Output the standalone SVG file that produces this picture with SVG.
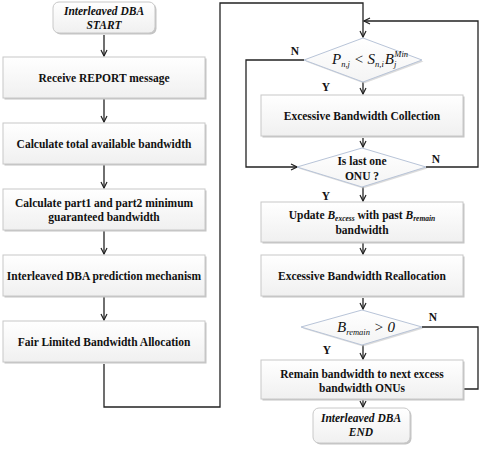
<svg xmlns="http://www.w3.org/2000/svg" width="482" height="452" viewBox="0 0 482 452">
<style>
.box{fill:url(#g);stroke:#c8c8c8;stroke-width:1}
.sh{fill:#c4c4c4}
.dm{fill:url(#g2);stroke:#b8c4d8;stroke-width:1}
.t{font-family:"Liberation Serif","Times New Roman",serif;font-weight:bold;font-size:11.5px;fill:#111;text-anchor:middle}
.ti{font-style:italic}
.m{font-family:"Liberation Serif","Times New Roman",serif;font-style:italic;fill:#111}
.lb{font-family:"Liberation Serif","Times New Roman",serif;font-weight:bold;font-size:11.5px;fill:#111;text-anchor:middle}
.c{fill:none;stroke:#222;stroke-width:1.3}
</style>
<defs>
<linearGradient id="g" x1="0" y1="0" x2="0" y2="1"><stop offset="0" stop-color="#ffffff"/><stop offset="1" stop-color="#f0f0f0"/></linearGradient>
<linearGradient id="g2" x1="0" y1="0" x2="0" y2="1"><stop offset="0" stop-color="#ffffff"/><stop offset="1" stop-color="#f4f4f4"/></linearGradient>
<marker id="a" markerWidth="8" markerHeight="8" refX="7" refY="4" orient="auto" markerUnits="userSpaceOnUse"><path d="M1,1 L7,4 L1,7" fill="none" stroke="#222" stroke-width="1.2"/></marker>
</defs>

<g id="connectors">
<path class="c" d="M104,35 V56" marker-end="url(#a)"/>
<path class="c" d="M104,99 V122" marker-end="url(#a)"/>
<path class="c" d="M104,165 V188" marker-end="url(#a)"/>
<path class="c" d="M104,231 V254" marker-end="url(#a)"/>
<path class="c" d="M104,297 V320" marker-end="url(#a)"/>
<path class="c" d="M104,364 V407 H220 V3 H363 V37" marker-end="url(#a)"/>
<path class="c" d="M304,60 H246 V167 H297" marker-end="url(#a)"/>
<path class="c" d="M363,82 V94" marker-end="url(#a)"/>
<path class="c" d="M363,138 V147" marker-end="url(#a)"/>
<path class="c" d="M426,167 H478 V21 H364" marker-end="url(#a)"/>
<path class="c" d="M363,187 V201" marker-end="url(#a)"/>
<path class="c" d="M363,243 V254" marker-end="url(#a)"/>
<path class="c" d="M363,298 V309" marker-end="url(#a)"/>
<path class="c" d="M422,327 H478 V389 H411" marker-end="url(#a)"/>
<path class="c" d="M363,345 V359" marker-end="url(#a)"/>
<path class="c" d="M363,400 V407" marker-end="url(#a)"/>
<text class="lb" x="295" y="55">N</text>
<text class="lb" x="326" y="91">Y</text>
<text class="lb" x="436" y="163">N</text>
<text class="lb" x="326" y="200">Y</text>
<text class="lb" x="433" y="321">N</text>
<text class="lb" x="327" y="354">Y</text>
</g>

<g id="start">
<rect class="sh" x="54.5" y="3.5" width="102" height="31" rx="6"/>
<rect class="box" x="53" y="2" width="102" height="31" rx="6"/>
<text class="t ti" x="104" y="15">Interleaved DBA</text>
<text class="t ti" x="104" y="29">START</text>
</g>

<g id="receive">
<rect class="sh" x="4.5" y="58.5" width="202" height="41"/>
<rect class="box" x="3" y="57" width="202" height="41"/>
<text class="t" x="104" y="82">Receive REPORT  message</text>
</g>

<g id="total">
<rect class="sh" x="4.5" y="124.5" width="202" height="41"/>
<rect class="box" x="3" y="123" width="202" height="41"/>
<text class="t" x="104" y="148">Calculate total available bandwidth</text>
</g>

<g id="guaranteed">
<rect class="sh" x="4.5" y="190.5" width="202" height="41"/>
<rect class="box" x="3" y="189" width="202" height="41"/>
<text class="t" x="104" y="207">Calculate part1 and part2 minimum</text>
<text class="t" x="104" y="221">guaranteed bandwidth</text>
</g>

<g id="prediction">
<rect class="sh" x="4.5" y="256.5" width="202" height="41"/>
<rect class="box" x="3" y="255" width="202" height="41"/>
<text class="t" x="104" y="280">Interleaved DBA prediction mechanism</text>
</g>

<g id="fair">
<rect class="sh" x="4.5" y="322.5" width="202" height="41"/>
<rect class="box" x="3" y="321" width="202" height="41"/>
<text class="t" x="104" y="346">Fair Limited  Bandwidth Allocation</text>
</g>

<g id="cond1">
<polygon class="sh" points="364,39.5 423.5,61.5 364,83.5 305.5,61.5" opacity="0.6"/>
<polygon class="dm" points="363,38 422,60 363,82 304,60"/>
<text class="m" x="332" y="64" font-size="15">P<tspan font-size="8.5" dy="3">n,j</tspan><tspan dy="-3" font-size="15"> &lt; S</tspan><tspan font-size="8.5" dy="3">n,i</tspan><tspan dy="-3" font-size="15" dx="1">B</tspan><tspan font-size="8.5" dy="3">j</tspan><tspan font-size="8.5" dy="-10" dx="-2">Min</tspan></text>
</g>

<g id="collection">
<rect class="sh" x="262.5" y="96.5" width="202" height="41"/>
<rect class="box" x="261" y="95" width="202" height="41"/>
<text class="t" x="362" y="120">Excessive Bandwidth Collection</text>
</g>

<g id="cond2">
<polygon class="sh" points="363,149.5 427.5,168.5 363,188.5 298.5,168.5" opacity="0.6"/>
<polygon class="dm" points="362,148 426,167 362,187 297,167"/>
<text class="t" x="362" y="165">Is last one</text>
<text class="t" x="362" y="180">ONU ?</text>
</g>

<g id="update">
<rect class="sh" x="262.5" y="203.5" width="202" height="40"/>
<rect class="box" x="261" y="202" width="202" height="40"/>
<text class="t" x="362" y="219">Update <tspan font-style="italic">B</tspan><tspan font-style="italic" font-size="7.5" dy="2">excess</tspan><tspan dy="-2"> with past </tspan><tspan font-style="italic">B</tspan><tspan font-style="italic" font-size="7.5" dy="2">remain</tspan></text>
<text class="t" x="362" y="234">bandwidth</text>
</g>

<g id="reallocation">
<rect class="sh" x="262.5" y="256.5" width="202" height="41"/>
<rect class="box" x="261" y="255" width="202" height="41"/>
<text class="t" x="362" y="280">Excessive Bandwidth Reallocation</text>
</g>

<g id="cond3">
<polygon class="sh" points="363,311.5 423.5,328.5 363,346.5 302.5,328.5" opacity="0.6"/>
<polygon class="dm" points="362,310 422,327 362,345 301,327"/>
<text class="m" x="337" y="332" font-size="15">B<tspan font-size="8.5" dy="3">remain</tspan><tspan font-size="15" dy="-3"> &gt; 0</tspan></text>
</g>

<g id="remain">
<rect class="sh" x="262.5" y="361.5" width="202" height="39"/>
<rect class="box" x="261" y="360" width="202" height="39"/>
<text class="t" x="362" y="378">Remain bandwidth to next excess</text>
<text class="t" x="362" y="392">bandwidth ONUs</text>
</g>

<g id="end">
<rect class="sh" x="314.5" y="409.5" width="97" height="35" rx="6"/>
<rect class="box" x="313" y="408" width="97" height="35" rx="6"/>
<text class="t ti" x="361" y="422">Interleaved DBA</text>
<text class="t ti" x="361" y="436">END</text>
</g>
</svg>
